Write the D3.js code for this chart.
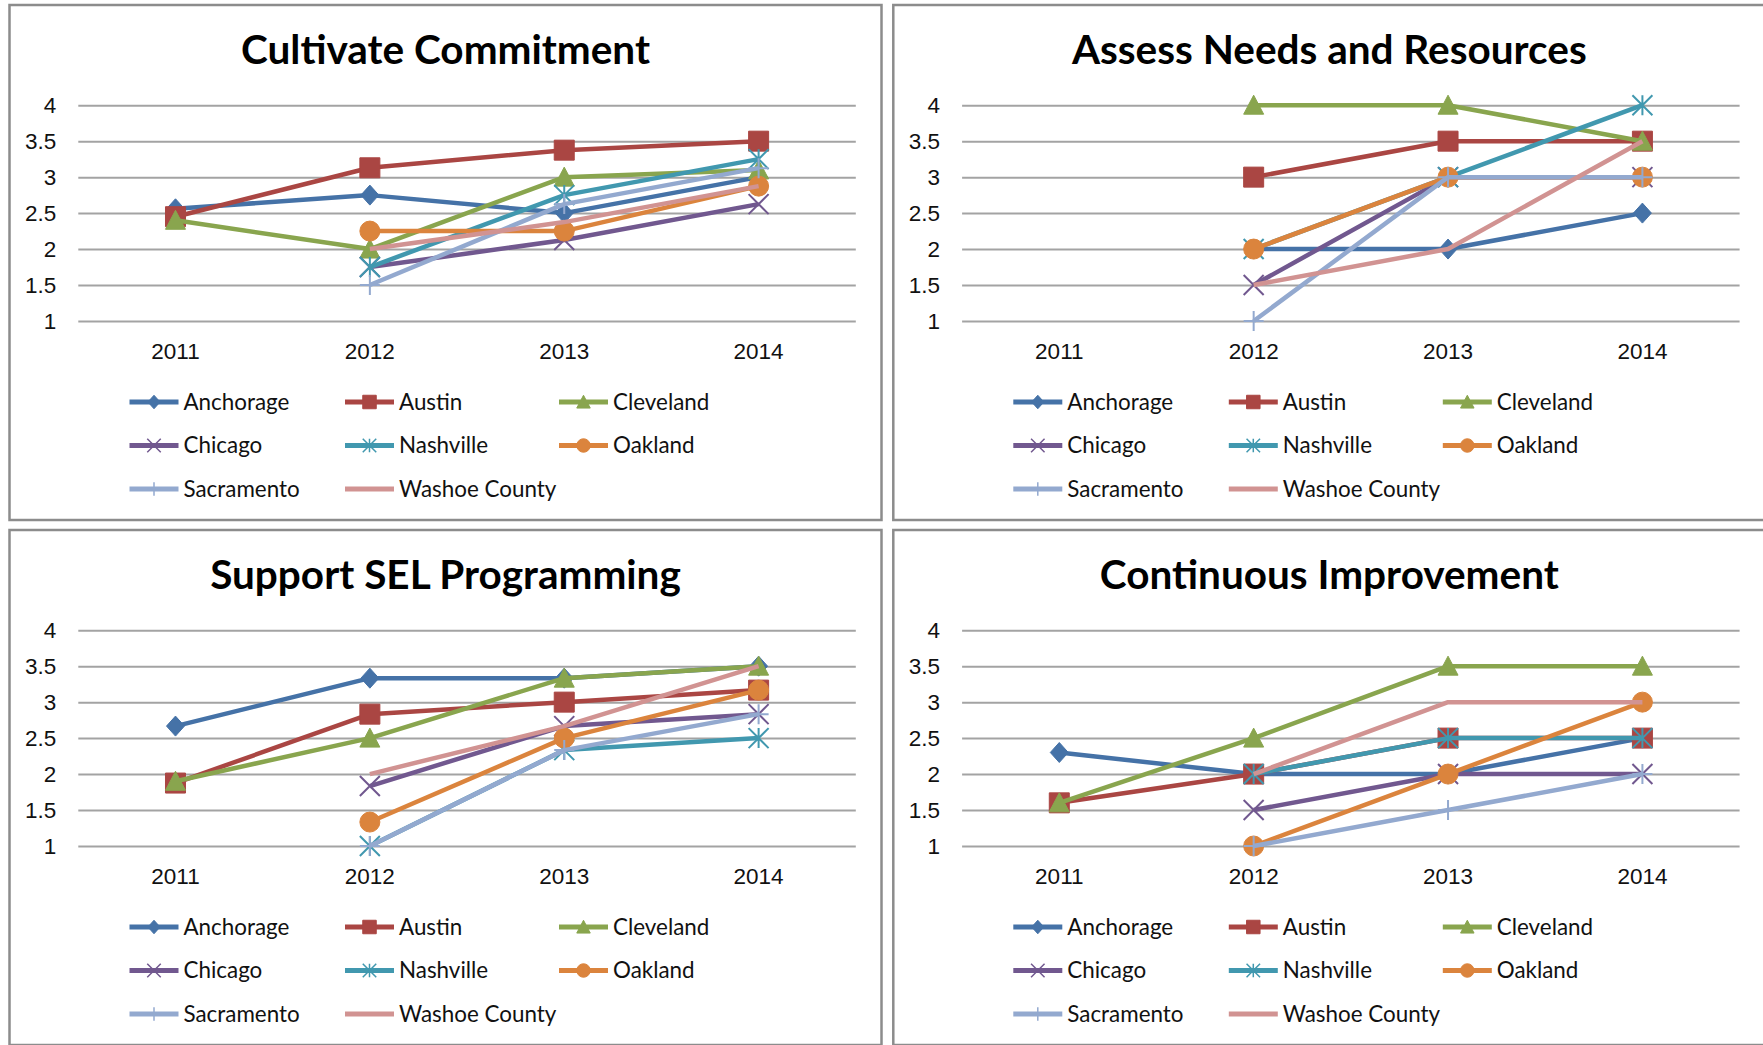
<!DOCTYPE html>
<html>
<head>
<meta charset="utf-8">
<script src="https://cdn.jsdelivr.net/npm/d3@7"></script>
<style>
  body { margin: 0; background: #fff; }
  svg { display: block; font-family: Lato, "Open Sans", sans-serif; }
</style>
</head>
<body>
<script>
"use strict";

const years = ["2011", "2012", "2013", "2014"];
const cities = ["Anchorage", "Austin", "Cleveland", "Chicago", "Nashville", "Oakland", "Sacramento", "Washoe County"];
const colors = ["#4572A7", "#AA4643", "#89A54E", "#71588F", "#4198AF", "#DB843D", "#93A9CF", "#D19392"];
const markers = ["diamond", "square", "triangle", "x", "asterisk", "circle", "plus", "none"];
const titles = ["Cultivate Commitment", "Assess Needs and Resources", "Support SEL Programming", "Continuous Improvement"];
const yTicks = [1, 1.5, 2, 2.5, 3, 3.5, 4];

// one row per city, in the order of `cities`; null = no score that year
const cultivate = [
  [2.56, 2.75, 2.5, 3.0],
  [2.45, 3.13, 3.375, 3.5],
  [2.4, 2.0, 3.0, 3.1],
  [null, 1.75, 2.125, 2.625],
  [null, 1.75, 2.75, 3.25],
  [null, 2.25, 2.25, 2.875],
  [null, 1.5, 2.625, 3.125],
  [null, 2.0, 2.375, 2.875]
];
const assess = [
  [null, 2.0, 2.0, 2.5],
  [null, 3.0, 3.5, 3.5],
  [null, 4.0, 4.0, 3.5],
  [null, 1.5, 3.0, 3.0],
  [null, 2.0, 3.0, 4.0],
  [null, 2.0, 3.0, 3.0],
  [null, 1.0, 3.0, 3.0],
  [null, 1.5, 2.0, 3.5]
];
const supportSel = [
  [2.667, 3.333, 3.333, 3.5],
  [1.875, 2.833, 3.0, 3.167],
  [1.9, 2.5, 3.333, 3.5],
  [null, 1.833, 2.667, 2.833],
  [null, 1.0, 2.333, 2.5],
  [null, 1.333, 2.5, 3.167],
  [null, 1.0, 2.333, 2.833],
  [null, 2.0, 2.667, 3.5]
];
const improvement = [
  [2.3, 2.0, 2.0, 2.5],
  [1.6, 2.0, 2.5, 2.5],
  [1.6, 2.5, 3.5, 3.5],
  [null, 1.5, 2.0, 2.0],
  [null, 2.0, 2.5, 2.5],
  [null, 1.0, 2.0, 3.0],
  [null, 1.0, 1.5, 2.0],
  [null, 2.0, 3.0, 3.0]
];
const charts = [cultivate, assess, supportSel, improvement];

const wSvg = 1763, hSvg = 1045;
const panelPos = [[9.5, 5], [893.3, 5], [9.5, 530], [893.3, 530]];
const wPanel = 872, hPanel = 515;
const plotL = 68.8, wPlot = 777.5, yTop = 100.2, yBot = 316;

const svg = d3.select("body").append("svg")
  .attr("width", wSvg).attr("height", hSvg);

const xScale = d3.scaleBand().domain(years).range([plotL, plotL + wPlot]);
const yScale = d3.scaleLinear().domain([1, 4]).range([yBot, yTop]);

function markerPath(type, s) {
  const h = s / 2;
  switch (type) {
    case "diamond": return `M0,${-h}L${h * 0.9},0L0,${h}L${-h * 0.9},0Z`;
    case "square": return `M${-h},${-h}H${h}V${h}H${-h}Z`;
    case "triangle": return `M0,${-h}L${h},${h * 0.9}L${-h},${h * 0.9}Z`;
    case "circle": return `M${h},0A${h},${h} 0 1,1 ${-h},0A${h},${h} 0 1,1 ${h},0Z`;
    case "x": return `M${-h},${-h}L${h},${h}M${-h},${h}L${h},${-h}`;
    case "asterisk": return `M${-h},${-h}L${h},${h}M${-h},${h}L${h},${-h}M0,${-h}V${h}`;
    case "plus": return `M${-h},0H${h}M0,${-h}V${h}`;
    default: return "";
  }
}
const isStroke = t => t == "x" || t == "asterisk" || t == "plus";

charts.forEach((data, ci) => {
  const [px, py] = panelPos[ci];
  const g = svg.append("g").attr("transform", `translate(${px}, ${py})`);

  g.append("rect")
    .attr("width", wPanel).attr("height", hPanel)
    .attr("fill", "#fff").attr("stroke", "#8c8c8c").attr("stroke-width", 2.5);

  g.append("text")
    .attr("x", wPanel / 2).attr("y", 59)
    .attr("text-anchor", "middle")
    .attr("font-size", 40.5).attr("font-weight", 700)
    .attr("fill", "#000")
    .text(titles[ci]);

  // gridlines + y labels
  const yAxis = g.append("g")
    .attr("transform", `translate(${plotL}, 0)`)
    .call(d3.axisLeft(yScale).tickValues(yTicks).tickSize(-wPlot).tickPadding(22).tickFormat(d3.format("")));
  yAxis.select(".domain").remove();
  yAxis.selectAll(".tick line").attr("stroke", "#a3a3a3").attr("stroke-width", 2);
  yAxis.selectAll(".tick text").attr("font-size", 22.5).attr("fill", "#111").attr("font-family", null);

  const xAxis = g.append("g")
    .attr("transform", `translate(0, ${yBot})`)
    .call(d3.axisBottom(xScale).tickSize(0).tickPadding(22));
  xAxis.select(".domain").remove();
  xAxis.selectAll(".tick text").attr("font-size", 22.5).attr("fill", "#111").attr("font-family", null);

  const line = d3.line()
    .defined(d => d.v != null)
    .x(d => xScale(d.year) + xScale.bandwidth() / 2)
    .y(d => yScale(d.v));

  data.forEach((row, si) => {
    const pts = row.map((v, i) => ({ year: years[i], v: v }));
    const sg = g.append("g");
    sg.append("path")
      .datum(pts)
      .attr("d", line)
      .attr("fill", "none")
      .attr("stroke", colors[si])
      .attr("stroke-width", 4.5)
      .attr("stroke-linejoin", "round");

    if (markers[si] != "none") {
      sg.selectAll("path.mk")
        .data(pts.filter(d => d.v != null))
        .enter()
        .append("path")
        .attr("class", "mk")
        .attr("transform", d => `translate(${xScale(d.year) + xScale.bandwidth() / 2}, ${yScale(d.v)})`)
        .attr("d", markerPath(markers[si], 20))
        .attr("fill", isStroke(markers[si]) ? "none" : colors[si])
        .attr("stroke", colors[si])
        .attr("stroke-width", isStroke(markers[si]) ? 2 : 1);
    }
  });

  // legend
  const rowsY = [397, 440.5, 484];
  const colsX = [120, 335.5, 549.5];
  const legend = g.append("g");
  cities.forEach((name, si) => {
    const lx = colsX[si % 3], ly = rowsY[Math.floor(si / 3)];
    const item = legend.append("g").attr("transform", `translate(${lx}, ${ly})`);
    item.append("line")
      .attr("x1", 0).attr("x2", 49)
      .attr("stroke", colors[si]).attr("stroke-width", 5);
    if (markers[si] != "none") {
      item.append("path")
        .attr("transform", "translate(24.5, 0)")
        .attr("d", markerPath(markers[si], 13.5))
        .attr("fill", isStroke(markers[si]) ? "none" : colors[si])
        .attr("stroke", colors[si])
        .attr("stroke-width", isStroke(markers[si]) ? 1.5 : 1);
    }
    item.append("text")
      .attr("x", 54).attr("dy", "0.35em")
      .attr("font-size", 22.4).attr("fill", "#111")
      .text(name);
  });
});
</script>
</body>
</html>
